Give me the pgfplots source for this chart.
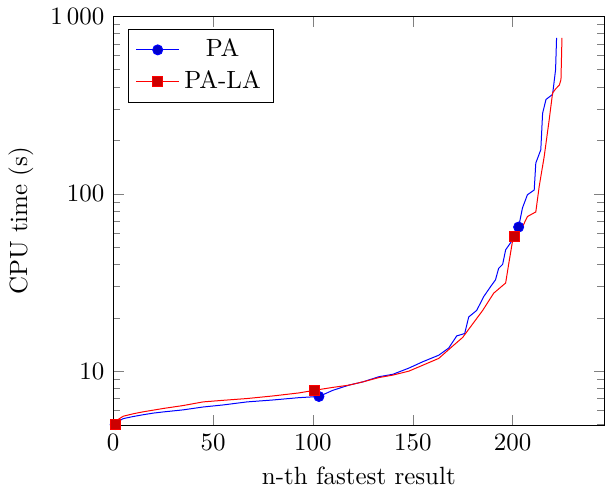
\documentclass[border=0pt]{standalone}
\usepackage{pgfplots}
\pgfplotsset{compat=1.18}
\begin{document}
\begin{tikzpicture}
\begin{axis}[
    scale only axis,
    width=197pt, height=164pt,
    ymode=log,
    xmin=0, xmax=246,
    ymin=4.95, ymax=1000,
    xtick={0,50,100,150,200},
    log ticks with fixed point,
    /pgf/number format/1000 sep={\,},
    xlabel={n-th fastest result},
    ylabel={CPU time (s)},
    legend pos=north west,
    legend image code/.code={%
        \draw[mark indices={2}] plot coordinates {(0cm,0cm) (0.3cm,0cm) (0.6cm,0cm)};},
    tick style={black!50},
]
% PA
\addplot+[mark indices={1,14,36}] coordinates {
(1,5.0) (2,5.17) (5,5.4) (10,5.55) (15,5.68) (20,5.8) (25,5.89) (35,6.05)
(45,6.28) (55,6.45) (67,6.71) (80,6.88) (93,7.09) (103,7.2) (110,7.8)
(118,8.34) (125,8.7) (133,9.3) (140,9.6) (148,10.4) (155,11.3) (163,12.3)
(168,13.5) (172,15.8) (176,16.3) (178,20.2) (182,22) (185.5,26.3) (189,30)
(191.4,32.7) (193,38) (195,40) (196.5,48.3) (200,55) (202,60) (203,64.9)
(204.9,83) (207.4,98.7) (210.8,105) (211.6,149) (214.1,177) (215,284)
(216.7,340) (220,363) (220.9,440) (221.5,500) (222,756)
};
\addlegendentry{PA}
% PA-LA
\addplot+[mark indices={1,13,30}] coordinates {
(1,5.0) (2,5.3) (5,5.57) (10,5.75) (15,5.9) (25,6.16) (35,6.4) (45,6.71)
(55,6.85) (67,7.01) (80,7.25) (93,7.54) (101,7.81) (110,8.1) (118,8.34)
(125,8.7) (133,9.2) (140,9.5) (148,10.0) (155,10.8) (163,11.8) (169.5,13.7)
(175,15.5) (180.5,18.8) (185,22) (190.5,27.5) (196.5,31.4) (198,40)
(199.8,52.9) (201,57.4) (204.9,65) (207.4,74.4) (211.6,79) (213.3,110)
(215.8,162) (218.3,261) (220,370) (221.7,392) (223.4,410) (224.2,440)
(224.7,756)
};
\addlegendentry{PA-LA}
\end{axis}
\end{tikzpicture}
\end{document}
